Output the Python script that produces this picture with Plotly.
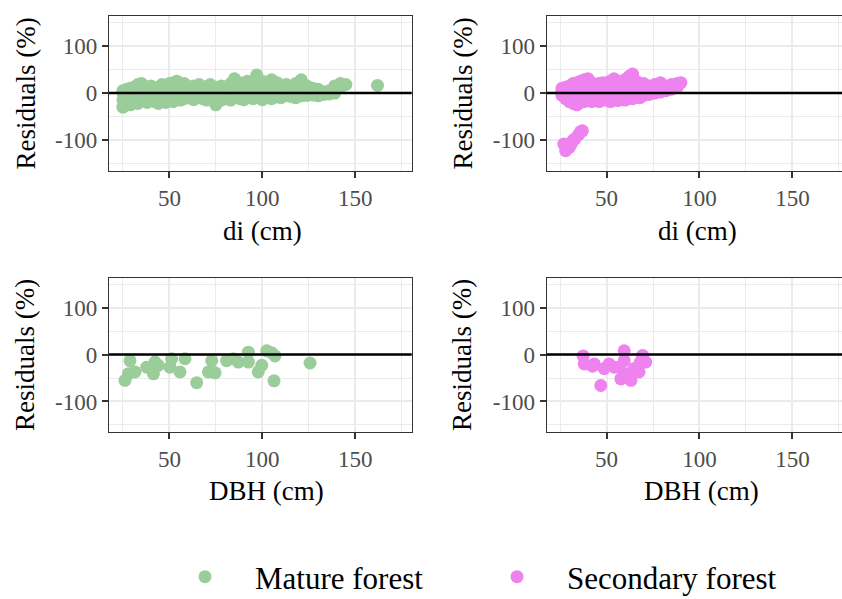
import plotly.graph_objects as go

# ---------------- data ----------------
mature_di_x = [25, 25, 25, 25, 27, 27, 27, 29, 29, 29, 29, 31, 31, 31, 33, 33, 33, 33,
               35, 35, 35, 35, 38, 38, 38, 40, 40, 40, 42, 42, 42, 44, 44, 44, 46, 46, 46,
               48, 48, 48, 50, 50, 50, 52, 52, 52, 54, 54, 54, 56, 56, 56, 58, 58, 58,
               60, 60, 60, 63, 63, 63, 66, 66, 66, 68, 68, 68, 70, 70, 70, 72, 72, 72,
               75, 75, 75, 75, 78, 78, 78, 80, 80, 80, 83, 83, 83, 85, 85, 85, 88, 88, 88,
               90, 90, 90, 92, 92, 92, 95, 95, 95, 97, 97, 97, 100, 100, 100, 102, 102, 102,
               105, 105, 105, 108, 108, 108, 110, 110, 110, 113, 113, 113, 116, 116, 116,
               118, 118, 118, 121, 121, 121, 124, 124, 124, 127, 127, 127, 130, 130, 130,
               133, 133, 136, 136, 139, 139, 139, 142, 142, 145, 162]
mature_di_res = [-30, -15, 0, 5, -20, -5, 8, -25, -10, 3, 10, -18, -2, 12, -22, -8, 5, 18,
                 -15, 0, 15, 20, -20, -5, 10, -12, 3, 15, -18, -3, 8, -22, -10, 12, -15, 0, 18,
                 -20, -5, 10, -12, 5, 20, -18, -2, 22, -10, 8, 25, -15, 0, 15, -12, 5, 20,
                 -10, 3, 12, -14, -2, 15, -8, 8, 18, -12, 0, 10, -15, -3, 14, -10, 5, 18,
                 -25, -12, 2, 12, -15, 0, 15, -12, 5, 10, -15, -2, 20, -10, 8, 30, -12, 3, 22,
                 -14, -3, 15, -10, 5, 25, -12, 0, 18, -8, 10, 38, -14, -2, 25, -10, 5, 20,
                 -12, 0, 28, -8, 8, 22, -10, -2, 15, -6, 5, 18, -8, 2, 12,
                 -10, 0, 20, -6, 8, 28, -5, 3, 15, -4, 0, 10, -6, 3, 8,
                 -3, 2, -2, 5, 0, 8, 15, 12, 20, 18, 16]

secondary_di_x = [26, 26, 26, 28, 28, 28, 30, 30, 30, 32, 32, 32, 32, 34, 34, 34, 34,
                  36, 36, 36, 38, 38, 38, 38, 40, 40, 40, 40, 42, 42, 42, 44, 44, 44,
                  46, 46, 46, 48, 48, 48, 50, 50, 50, 52, 52, 52, 54, 54, 54, 56, 56, 56,
                  58, 58, 58, 60, 60, 60, 62, 62, 62, 64, 64, 64, 66, 66, 66, 68, 68, 68,
                  70, 70, 70, 73, 73, 73, 76, 76, 76, 79, 79, 79, 82, 82, 85, 85, 88, 88, 90,
                  27, 28, 30, 31, 32, 33, 35, 36, 37]
secondary_di_res = [-5, 5, 10, -12, 0, 12, -18, -5, 15, -22, -8, 8, 20, -25, -10, 5, 22,
                    -20, -3, 25, -18, 0, 18, 28, -15, -5, 10, 30, -18, 2, 22, -15, -5, 15,
                    -18, 0, 20, -12, 5, 22, -15, -3, 18, -18, 0, 25, -14, 8, 30, -16, -2, 20,
                    -12, 5, 25, -15, 0, 28, -10, 8, 35, -12, 3, 40, -8, 10, 25, -10, 0, 18,
                    -5, 5, 20, -3, 8, 15, 0, 10, 18, 2, 12, 22, 5, 15, 8, 18, 12, 20, 22,
                    -108, -122, -115, -108, -100, -97, -88, -82, -80]

mature_dbh_x = [26.1, 28.8, 27.9, 31.5, 37.8, 41.4, 42.3, 44.0, 50.3, 51.2, 55.7, 58.4,
                64.7, 71.0, 72.8, 74.6, 80.8, 84.4, 87.1, 92.5, 92.5, 97.8, 99.7, 102.4,
                105.0, 106.8, 106.3, 125.7]
mature_dbh_res = [-55, -13, -41, -37, -27, -41, -16, -23, -27, -9, -37, -9,
                  -60, -37, -13, -39, -13, -9, -16, 5, -16, -37, -23, 8,
                  4, -3, -56, -18]

secondary_dbh_x = [37.4, 38.0, 42.5, 43.4, 46.9, 48.7, 51.4, 54.1, 56.8, 57.7, 59.5, 59.5,
                   61.3, 63.1, 64.8, 67.5, 68.2, 69.4, 71.1]
secondary_dbh_res = [-3, -20, -25, -20, -66, -30, -20, -27, -27, -52, 8, -13,
                     -41, -55, -30, -37, -16, -2, -16]

x_ticks = [50, 100, 150]
x_minor = [25, 75, 125, 175]
y_ticks = [-100, 0, 100]
y_ticklabels = ["-100", "0", "100"]
y_minor = [-150, -50, 50, 150]

GREEN = "#9BCD9B"
PINK = "#EE82EE"
FONT = "'Liberation Serif', 'Times New Roman', Times, 'DejaVu Serif', serif"
W, H = 842, 599

fig = go.Figure()

def add(x, y, color, name, xa, ya, show):
    fig.add_trace(go.Scatter(
        x=x, y=y, mode="markers", name=name, legendgroup=name, showlegend=show,
        marker=dict(color=color, size=13, line=dict(width=0)),
        xaxis=xa, yaxis=ya, hoverinfo="skip"))

add(mature_di_x, mature_di_res, GREEN, "Mature forest", "x", "y", True)
add(secondary_di_x, secondary_di_res, PINK, "Secondary forest", "x2", "y2", True)
add(mature_dbh_x, mature_dbh_res, GREEN, "Mature forest", "x3", "y3", False)
add(secondary_dbh_x, secondary_dbh_res, PINK, "Secondary forest", "x4", "y4", False)

# pixel geometry
left_dom = [109 / W, 411.7 / W]
right_dom = [546.7 / W, 1.0]
top_dom = [1 - 171 / H, 1 - 16 / H]
bot_dom = [1 - 432 / H, 1 - 278 / H]

def xaxis(dom, rng, anchor):
    return dict(domain=dom, range=rng, anchor=anchor, tickvals=x_ticks,
                ticks="outside", ticklen=6, tickwidth=2, tickcolor="#333333",
                tickfont=dict(family=FONT, size=23, color="#4D4D4D"),
                showgrid=True, gridcolor="#EBEBEB", gridwidth=1.6,
                minor=dict(tickvals=x_minor, showgrid=True, gridcolor="#EBEBEB", gridwidth=0.9, ticks=""),
                showline=True, linecolor="#333333", linewidth=1.4, mirror=True,
                zeroline=False, fixedrange=True)

def yaxis(dom, anchor, mirror):
    return dict(domain=dom, range=[-165, 163], anchor=anchor,
                tickvals=y_ticks, ticktext=y_ticklabels,
                ticks="outside", ticklen=6, tickwidth=2, tickcolor="#333333",
                tickfont=dict(family=FONT, size=23, color="#4D4D4D"),
                showgrid=True, gridcolor="#EBEBEB", gridwidth=1.6,
                minor=dict(tickvals=y_minor, showgrid=True, gridcolor="#EBEBEB", gridwidth=0.9, ticks=""),
                showline=True, linecolor="#333333", linewidth=1.4, mirror=mirror,
                zeroline=False, fixedrange=True)

LRNG = [17.5, 180.4]
RRNG = [17.8, 176.7]

fig.update_layout(
    width=W, height=H,
    margin=dict(l=0, r=0, t=0, b=0, pad=0, autoexpand=False),
    paper_bgcolor="white", plot_bgcolor="white",
    font=dict(family=FONT, color="black"),
    xaxis=xaxis(left_dom, LRNG, "y"),
    yaxis=yaxis(top_dom, "x", True),
    xaxis2=xaxis(right_dom, RRNG, "y2"),
    yaxis2=yaxis(top_dom, "x2", False),
    xaxis3=xaxis(left_dom, LRNG, "y3"),
    yaxis3=yaxis(bot_dom, "x3", True),
    xaxis4=xaxis(right_dom, RRNG, "y4"),
    yaxis4=yaxis(bot_dom, "x4", False),
    showlegend=True,
    legend=dict(orientation="h", x=155 / W, xanchor="left", y=1 - 577 / H, yanchor="middle",
                font=dict(family=FONT, size=31, color="black"),
                entrywidth=207, entrywidthmode="pixels", itemwidth=90,
                bgcolor="rgba(0,0,0,0)"),
)

# zero reference lines drawn above points
for xr, yr in [("x", "y"), ("x2", "y2"), ("x3", "y3"), ("x4", "y4")]:
    fig.add_shape(type="line", xref=xr + " domain", yref=yr, x0=0, x1=1, y0=0, y1=0,
                  line=dict(color="black", width=2.6), layer="above")

# axis titles
annos = [
    ("Residuals (%)", 25, 93.5, -90),
    ("Residuals (%)", 462, 93.5, -90),
    ("Residuals (%)", 25, 355, -90),
    ("Residuals (%)", 462, 355, -90),
    ("di (cm)", 262, 231, 0),
    ("di (cm)", 697, 231, 0),
    ("DBH (cm)", 266, 491, 0),
    ("DBH (cm)", 701, 491, 0),
]
for txt, px, py, ang in annos:
    fig.add_annotation(text=txt, x=px / W, y=1 - py / H, xref="paper", yref="paper",
                       xanchor="center", yanchor="middle", showarrow=False, textangle=ang,
                       font=dict(family=FONT, size=27, color="black"))

fig.write_html("out.html")
